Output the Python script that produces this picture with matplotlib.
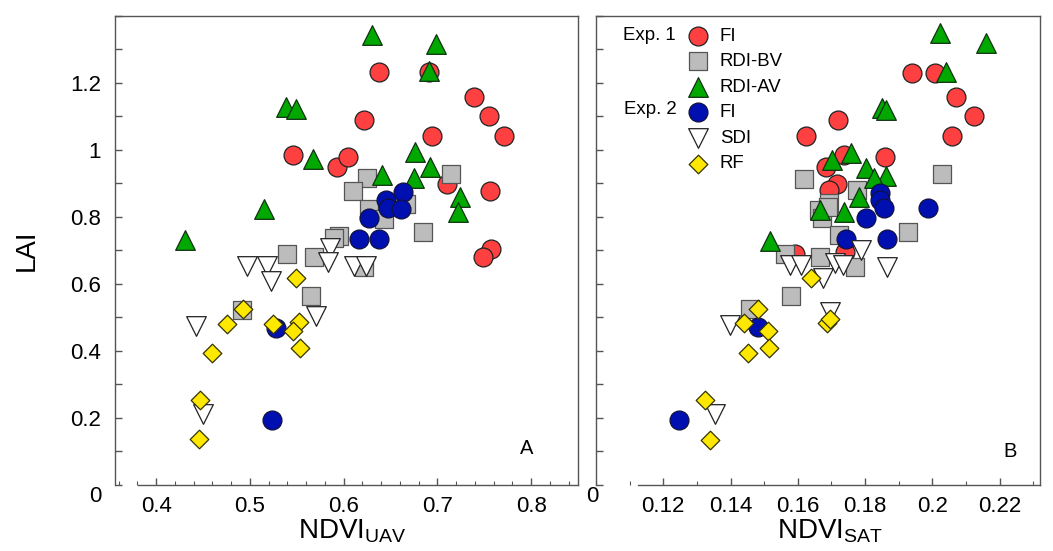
import matplotlib
matplotlib.use("Agg")
import matplotlib.pyplot as plt
from matplotlib.ticker import MultipleLocator

plt.rcParams['font.family'] = ['Liberation Sans', 'DejaVu Sans']
plt.rcParams['mathtext.fontset'] = 'custom'
plt.rcParams['mathtext.rm'] = 'Liberation Sans'
plt.rcParams['mathtext.it'] = 'Liberation Sans'

# ---------------- data ----------------
series_labels = ["FI", "RDI-BV", "RDI-AV", "FI", "SDI", "RF"]

# Panel A: NDVI_UAV vs LAI
a_fi1_x = [0.546, 0.593, 0.605, 0.638, 0.691, 0.739, 0.755, 0.771, 0.622, 0.694, 0.710, 0.756, 0.757, 0.749]
a_fi1_y = [0.984, 0.949, 0.979, 1.231, 1.233, 1.158, 1.099, 1.042, 1.087, 1.042, 0.898, 0.876, 0.705, 0.681]
a_bv_x = [0.714, 0.625, 0.610, 0.666, 0.627, 0.643, 0.685, 0.595, 0.590, 0.622, 0.539, 0.568, 0.565, 0.492]
a_bv_y = [0.927, 0.914, 0.878, 0.838, 0.823, 0.793, 0.755, 0.743, 0.736, 0.649, 0.689, 0.679, 0.564, 0.521]
a_av_x = [0.538, 0.549, 0.567, 0.630, 0.698, 0.691, 0.676, 0.692, 0.641, 0.675, 0.724, 0.722, 0.515, 0.431]
a_av_y = [1.128, 1.122, 0.973, 1.342, 1.316, 1.234, 0.992, 0.947, 0.925, 0.915, 0.860, 0.813, 0.823, 0.730]
a_fi2_x = [0.663, 0.645, 0.647, 0.661, 0.627, 0.616, 0.638, 0.528, 0.524]
a_fi2_y = [0.873, 0.850, 0.826, 0.823, 0.796, 0.733, 0.735, 0.468, 0.193]
a_sdi_x = [0.585, 0.583, 0.497, 0.518, 0.522, 0.611, 0.624, 0.570, 0.442, 0.450]
a_sdi_y = [0.708, 0.664, 0.654, 0.654, 0.609, 0.654, 0.654, 0.504, 0.475, 0.213]
a_rf_x = [0.549, 0.493, 0.475, 0.525, 0.552, 0.546, 0.553, 0.460, 0.447, 0.446]
a_rf_y = [0.617, 0.524, 0.481, 0.480, 0.487, 0.458, 0.410, 0.393, 0.254, 0.136]

# Panel B: NDVI_SAT vs LAI
b_fi1_x = [0.1940, 0.2008, 0.2071, 0.2124, 0.2058, 0.1718, 0.1623, 0.1858, 0.1736, 0.1684, 0.1716, 0.1694, 0.1740, 0.1592]
b_fi1_y = [1.230, 1.230, 1.158, 1.100, 1.042, 1.088, 1.042, 0.978, 0.984, 0.949, 0.899, 0.880, 0.696, 0.690]
b_bv_x = [0.2030, 0.1619, 0.1776, 0.1694, 0.1662, 0.1672, 0.1721, 0.1927, 0.1771, 0.1563, 0.1665, 0.1580, 0.1459, 0.1690]
b_bv_y = [0.927, 0.912, 0.880, 0.840, 0.820, 0.795, 0.745, 0.755, 0.651, 0.690, 0.681, 0.564, 0.524, 0.830]
b_av_x = [0.2023, 0.2159, 0.2041, 0.1850, 0.1863, 0.1759, 0.1703, 0.1802, 0.1863, 0.1827, 0.1782, 0.1667, 0.1738, 0.1518]
b_av_y = [1.348, 1.317, 1.233, 1.125, 1.118, 0.989, 0.969, 0.944, 0.922, 0.914, 0.860, 0.820, 0.813, 0.727]
b_fi2_x = [0.1843, 0.1843, 0.1855, 0.1802, 0.1987, 0.1865, 0.1744, 0.1483, 0.1248]
b_fi2_y = [0.872, 0.849, 0.826, 0.797, 0.827, 0.735, 0.733, 0.470, 0.193]
b_sdi_x = [0.1788, 0.1865, 0.1577, 0.1610, 0.1676, 0.1711, 0.1735, 0.1696, 0.1399, 0.1355]
b_sdi_y = [0.700, 0.651, 0.656, 0.656, 0.616, 0.661, 0.655, 0.516, 0.477, 0.213]
b_rf_x = [0.1639, 0.1481, 0.1439, 0.1511, 0.1513, 0.1451, 0.1688, 0.1695, 0.1325, 0.1340]
b_rf_y = [0.616, 0.526, 0.484, 0.460, 0.410, 0.394, 0.482, 0.495, 0.253, 0.133]

a_xticks = [0.4, 0.5, 0.6, 0.7, 0.8]
a_xticklabels = ["0.4", "0.5", "0.6", "0.7", "0.8"]
b_xticks = [0.12, 0.14, 0.16, 0.18, 0.20, 0.22]
b_xticklabels = ["0.12", "0.14", "0.16", "0.18", "0.2", "0.22"]
yticks = [0, 0.2, 0.4, 0.6, 0.8, 1.0, 1.2]
a_yticklabels = ["", "0.2", "0.4", "0.6", "0.8", "1", "1.2"]

# ---------------- styles ----------------
styles = [
    dict(marker='o', s=185, facecolor='#ff4040', edgecolor='#222222'),
    dict(marker='s', s=185, facecolor='#bcbcbc', edgecolor='#555555'),
    dict(marker='^', s=200, facecolor='#00a800', edgecolor='#123012'),
    dict(marker='o', s=185, facecolor='#0010b0', edgecolor='#101040'),
    dict(marker='v', s=200, facecolor='#ffffff', edgecolor='#222222'),
    dict(marker='D', s=90, facecolor='#ffe800', edgecolor='#333300'),
]

W, H = 1053, 551
fig = plt.figure(figsize=(W / 100, H / 100), dpi=100)


def px_axes(l, t, r, b):
    return fig.add_axes([l / W, 1 - b / H, (r - l) / W, (b - t) / H])


axA = px_axes(115, 15.5, 578, 485)
axB = px_axes(596, 15.5, 1040, 485)

spine_col = '#555555'
TICKFS = 16


def setup(ax, xlim, xbound_lo, xticks, xlabels, xminor):
    ax.set_xlim(*xlim)
    ax.set_ylim(0, 1.4)
    for sp in ax.spines.values():
        sp.set_color(spine_col)
        sp.set_linewidth(1.0)
    ax.spines['bottom'].set_bounds(xbound_lo, xlim[1])
    ax.set_xticks(xticks)
    ax.set_xticklabels(xlabels, fontsize=TICKFS)
    ax.xaxis.set_minor_locator(MultipleLocator(xminor))
    ax.yaxis.set_minor_locator(MultipleLocator(0.1))
    ax.tick_params(axis='both', which='both', direction='in', color=spine_col,
                   top=False, right=False)
    ax.tick_params(axis='x', which='major', length=5, width=1, pad=8)
    ax.tick_params(axis='x', which='minor', length=3, width=0.8)
    ax.tick_params(axis='y', which='both', length=5, width=1, pad=10)


setup(axA, (0.356, 0.850), 0.381, a_xticks, a_xticklabels, 0.02)
axA.set_yticks(yticks)
axA.set_yticklabels(a_yticklabels, fontsize=TICKFS)

setup(axB, (0.100, 0.232), 0.1126, b_xticks, b_xticklabels, 0.01)
axB.set_yticks(yticks)
axB.set_yticklabels([""] * len(yticks))

for x, y, st in zip([a_fi1_x, a_bv_x, a_av_x, a_fi2_x, a_sdi_x, a_rf_x],
                    [a_fi1_y, a_bv_y, a_av_y, a_fi2_y, a_sdi_y, a_rf_y], styles):
    axA.scatter(x, y, linewidths=0.9, zorder=3, **st)

handlesB = []
for x, y, st, lab in zip([b_fi1_x, b_bv_x, b_av_x, b_fi2_x, b_sdi_x, b_rf_x],
                         [b_fi1_y, b_bv_y, b_av_y, b_fi2_y, b_sdi_y, b_rf_y], styles, series_labels):
    h = axB.scatter(x, y, linewidths=0.9, zorder=3, label=lab, **st)
    handlesB.append(h)

LEGFS = 13.4
leg = axB.legend(handles=handlesB, loc='upper left',
                 bbox_to_anchor=((688.7 - 596) / 444, 1 - (27.5 - 15.5) / 469.5),
                 frameon=False, fontsize=LEGFS, handlelength=1.0, handletextpad=0.68,
                 borderpad=0, borderaxespad=0, labelspacing=0.46, scatterpoints=1)

fig.text(676 / W, 1 - 36 / H, "Exp. 1", ha='right', va='center', fontsize=LEGFS)
fig.text(677 / W, 1 - 110 / H, "Exp. 2", ha='right', va='center', fontsize=LEGFS)

# origin labels
fig.text(95 / W, 1 - 497 / H, "0", ha='center', va='center', fontsize=TICKFS)
fig.text(592 / W, 1 - 497 / H, "0", ha='center', va='center', fontsize=TICKFS)

axA.text(0.7957, 0.110, "A", fontsize=14.5, ha='center', va='center')
axB.text(0.2231, 0.100, "B", fontsize=14.5, ha='center', va='center')

fig.text(352 / W, 1 - 531 / H, r"NDVI$_{\mathrm{UAV}}$", ha='center', va='center', fontsize=20)
fig.text(830 / W, 1 - 531 / H, r"NDVI$_{\mathrm{SAT}}$", ha='center', va='center', fontsize=20)
fig.text(27 / W, 1 - 250 / H, "LAI", ha='center', va='center', rotation=90, fontsize=20)

fig.savefig("out.png", dpi=100)
